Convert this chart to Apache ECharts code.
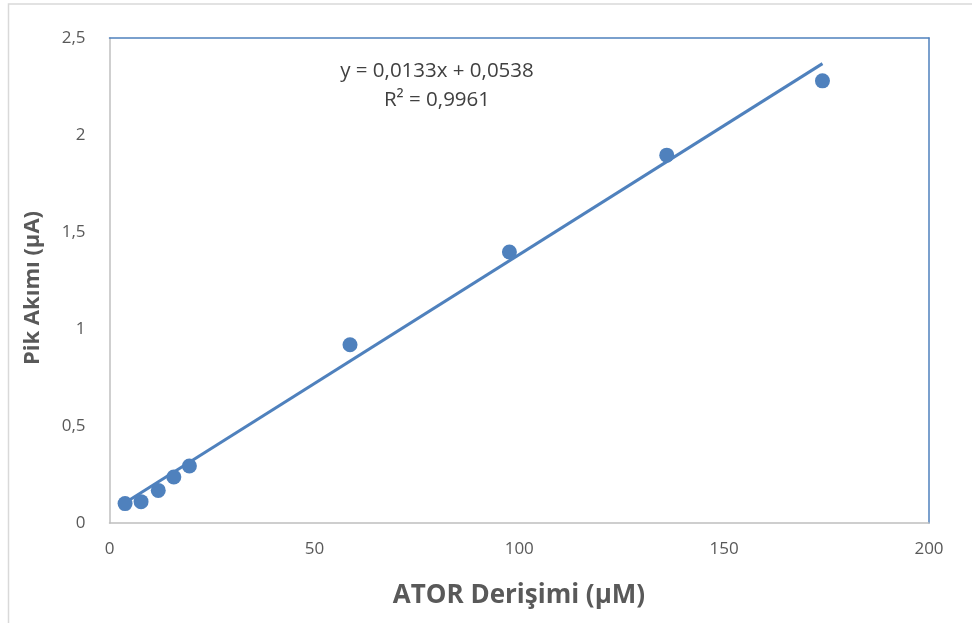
<!DOCTYPE html>
<html>
<head>
<meta charset="utf-8">
<script src="https://cdn.jsdelivr.net/npm/echarts@6/dist/echarts.min.js"></script>
<style>
  html, body { margin: 0; padding: 0; background: #fff; }
  #chart { width: 972px; height: 623px; }
</style>
</head>
<body>
<div id="chart"></div>
<script>
// Concentration (µM) and measured peak current (µA)
const concentration = [3.8, 7.7, 11.9, 15.7, 19.5, 58.7, 97.6, 136, 174];
const peakCurrent = [0.10, 0.11, 0.168, 0.237, 0.294, 0.919, 1.397, 1.896, 2.279];

// Linear fit reported on the chart
const slope = 0.0133;
const intercept = 0.0538;
const rSquared = 0.9961;

const xTicks = [0, 50, 100, 150, 200];
const yTicks = [0, 0.5, 1, 1.5, 2, 2.5];

const fmt = v => String(v).replace('.', ',');

const xMinData = Math.min(...concentration);
const xMaxData = Math.max(...concentration);
const fitLine = [
  [xMinData, slope * xMinData + intercept],
  [xMaxData, slope * xMaxData + intercept]
];

const blue = '#4f81bd';
const grey = '#bfbfbf';
const textColor = '#595959';
const font = 'Open Sans, "Noto Sans", sans-serif';

const chart = echarts.init(document.getElementById('chart'), null, { renderer: 'canvas' });

chart.setOption({
  animation: false,
  backgroundColor: '#fff',
  grid: { left: 109.5, right: 43, top: 38, bottom: 100, containLabel: false },
  xAxis: [{
    type: 'value',
    min: xTicks[0], max: xTicks[xTicks.length - 1], interval: 50,
    axisLine: { show: true, onZero: false, lineStyle: { color: grey, width: 1.5 } },
    axisTick: { show: false },
    splitLine: { show: false },
    axisLabel: {
      color: textColor, fontSize: 17, fontFamily: font, margin: 18,
      formatter: v => xTicks.includes(v) ? fmt(v) : ''
    }
  }, {
    type: 'value', position: 'top',
    min: xTicks[0], max: xTicks[xTicks.length - 1],
    axisLine: { show: true, onZero: false, lineStyle: { color: blue, width: 1.5 } },
    axisTick: { show: false }, axisLabel: { show: false }, splitLine: { show: false }
  }],
  yAxis: [{
    type: 'value',
    min: yTicks[0], max: yTicks[yTicks.length - 1], interval: 0.5,
    axisLine: { show: true, onZero: false, lineStyle: { color: grey, width: 1.5 } },
    axisTick: { show: false },
    splitLine: { show: false },
    axisLabel: {
      color: textColor, fontSize: 17, fontFamily: font, margin: 24,
      formatter: v => fmt(v)
    }
  }, {
    type: 'value', position: 'right',
    min: yTicks[0], max: yTicks[yTicks.length - 1],
    axisLine: { show: true, onZero: false, lineStyle: { color: blue, width: 1.5 } },
    axisTick: { show: false }, axisLabel: { show: false }, splitLine: { show: false }
  }],
  graphic: [
    {
      type: 'rect', silent: true, z: -10,
      shape: { x: 8.5, y: 4, width: 970, height: 640 },
      style: { fill: 'none', stroke: '#d9d9d9', lineWidth: 1.5 }
    },
    {
      type: 'text', x: 519, y: 596,
      style: {
        text: 'ATOR Derişimi (µM)', fill: textColor,
        font: 'bold 26px ' + font,
        align: 'center', verticalAlign: 'middle'
      }
    },
    {
      type: 'text', rotation: Math.PI / 2,
      x: 33, y: 288,
      style: {
        text: 'Pik Akımı (µA)', fill: textColor,
        font: 'bold 22px ' + font,
        align: 'center', verticalAlign: 'middle'
      }
    },
    {
      type: 'text', x: 437, y: 71,
      style: {
        text: 'y = ' + fmt(slope) + 'x + ' + fmt(intercept),
        fill: '#404040', font: '20.5px ' + font,
        align: 'center', verticalAlign: 'middle'
      }
    },
    {
      type: 'text', x: 437, y: 100,
      style: {
        text: 'R² = ' + fmt(rSquared),
        fill: '#404040', font: '20.5px ' + font,
        align: 'center', verticalAlign: 'middle'
      }
    }
  ],
  series: [
    {
      name: 'Doğrusal',
      type: 'line',
      data: fitLine,
      symbol: 'none',
      lineStyle: { color: blue, width: 3 },
      z: 2
    },
    {
      name: 'Pik Akımı',
      type: 'scatter',
      data: concentration.map((c, i) => [c, peakCurrent[i]]),
      symbol: 'circle',
      symbolSize: 15,
      itemStyle: { color: blue, opacity: 1 },
      z: 3
    }
  ]
});
</script>
</body>
</html>
